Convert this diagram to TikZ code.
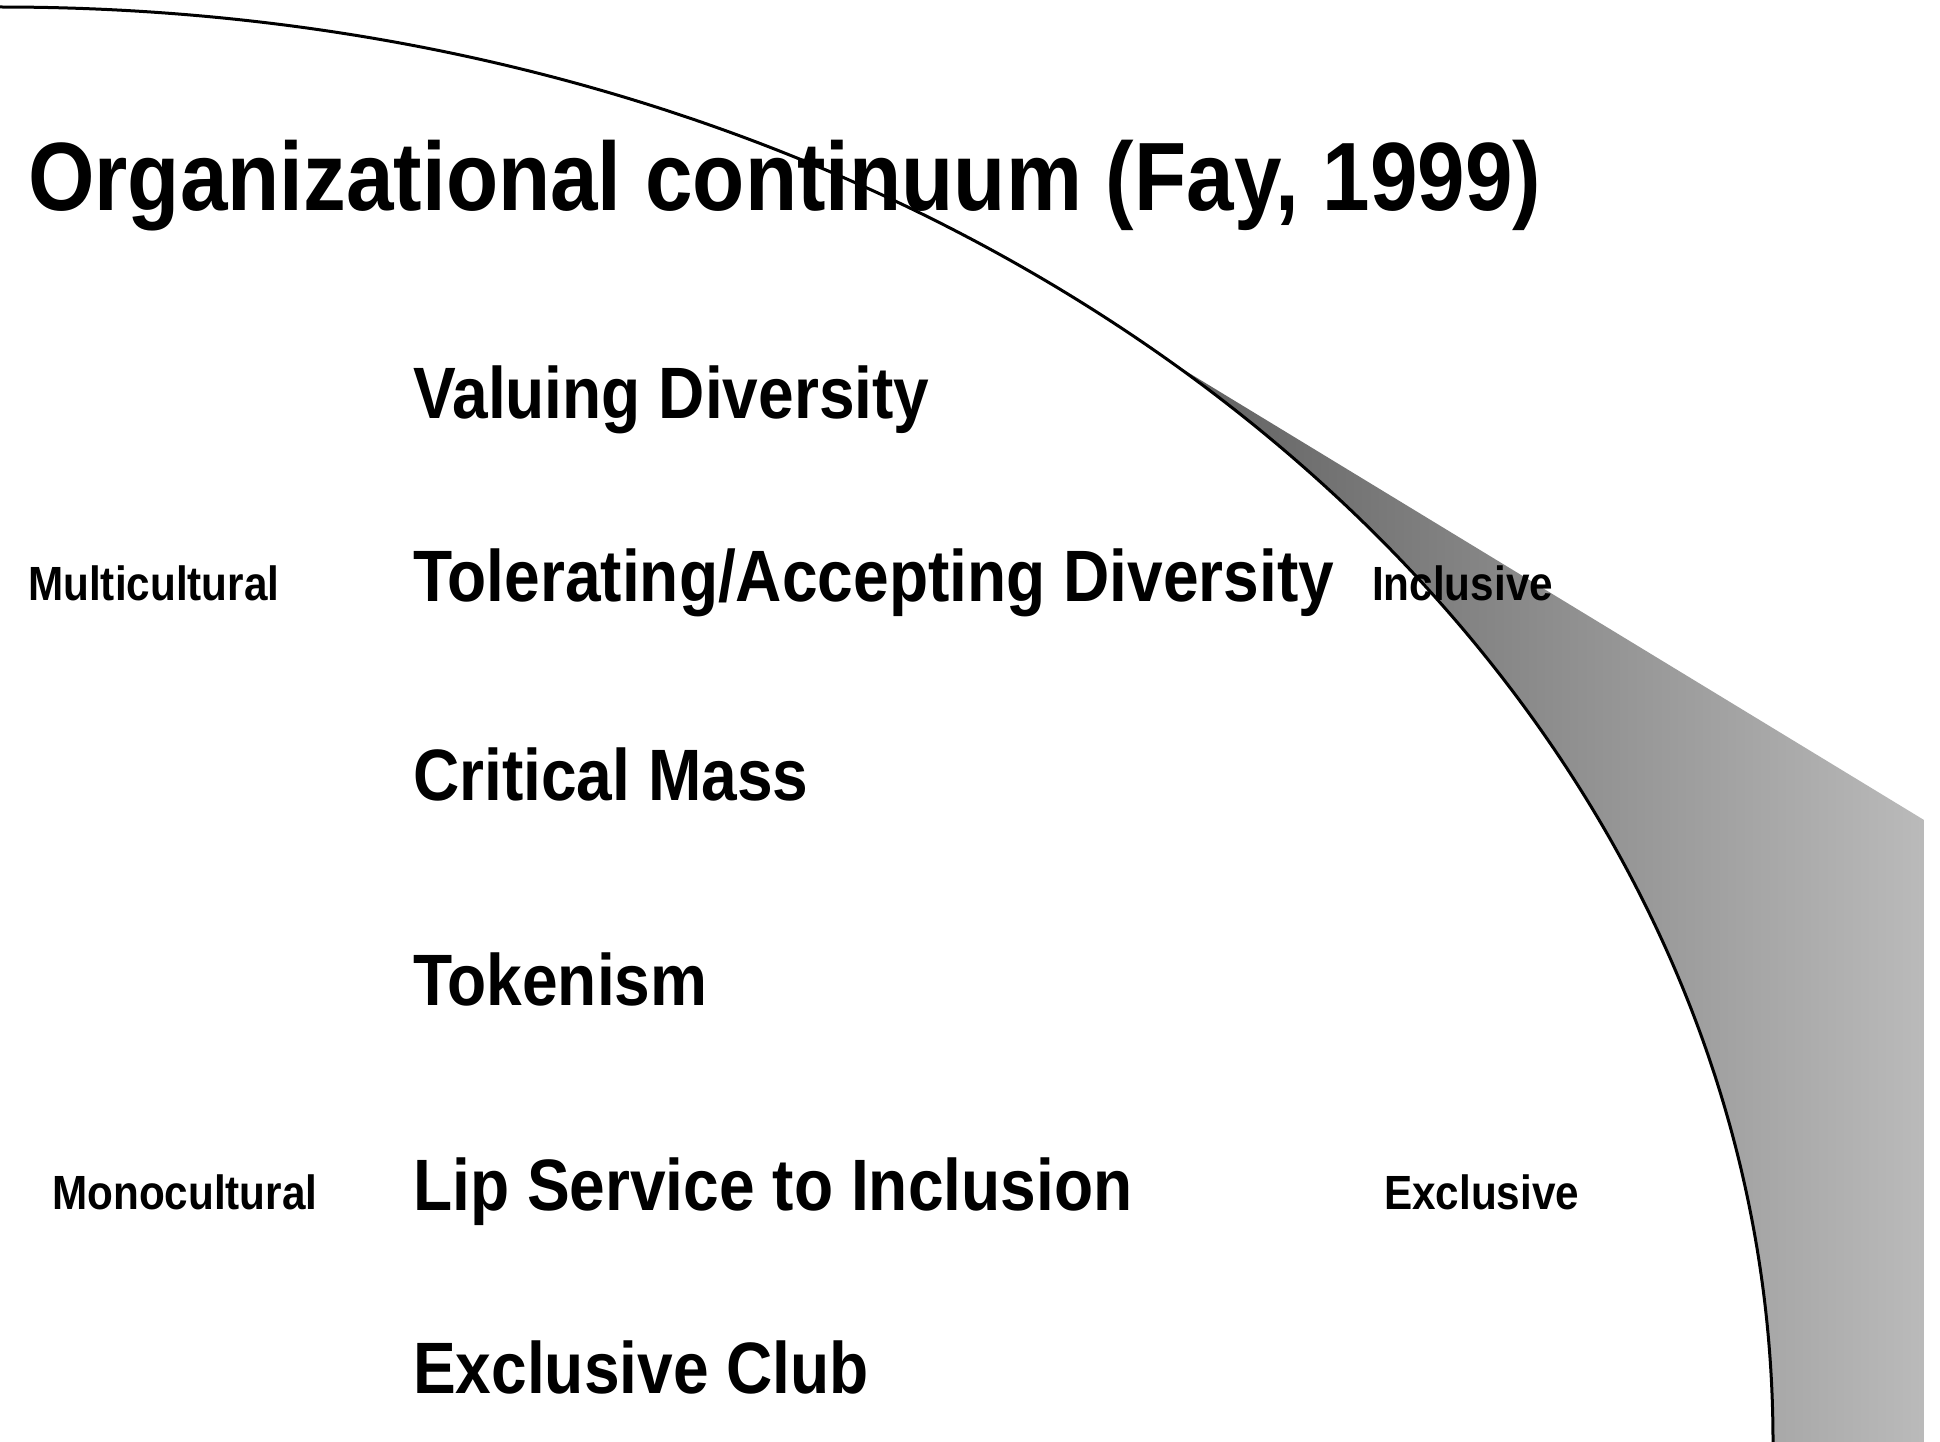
\documentclass[tikz,border=0pt]{standalone}
\usepackage{fontspec}
\setmainfont[FakeStretch=0.88]{Liberation Sans Bold}
\begin{document}
\begin{tikzpicture}[x=1pt,y=-1pt,
  titletext/.style={anchor=base west,inner sep=0pt,font=\fontsize{97.1}{110}\selectfont},
  itemtext/.style={anchor=base west,inner sep=0pt,font=\fontsize{72.8}{84}\selectfont},
  sidetext/.style={anchor=base west,inner sep=0pt,font=\fontsize{48}{56}\selectfont},
  curveline/.style={draw=black,line width=3pt}]
\useasboundingbox[fill=white] (0,0) rectangle (1940,1442);
\coordinate (cstart) at (0,7);
\coordinate (cend) at (1773,1442);
\coordinate (wtop) at (1161,356);
\coordinate (wright) at (1924,820);
\coordinate (wbottom) at (1924,1442);
% shaded wedge, clipped to the right of the curve
\begin{scope}
  \clip (cstart) .. controls (1000,7) and (1773,660) .. (cend) -- (1940,1442) -- (1940,0) -- (0,0) -- cycle;
  \shade[left color=black!63,right color=black!27]
    (wtop) -- (wright) -- (wbottom) -- (1161,1442) -- cycle;
\end{scope}
% curve
\draw[curveline] (cstart) .. controls (1000,7) and (1773,660) .. (cend);
% texts
\node[titletext] (title) at (28,211) {Organizational continuum (Fay, 1999)};
\node[itemtext] (valuing) at (413,418) {Valuing Diversity};
\node[itemtext] (tolerating) at (413,601) {Tolerating/Accepting Diversity};
\node[itemtext] (critical) at (413,800) {Critical Mass};
\node[itemtext] (tokenism) at (413,1005) {Tokenism};
\node[itemtext] (lip) at (413,1210) {Lip Service to Inclusion};
\node[itemtext] (club) at (413,1393) {Exclusive Club};
\node[sidetext] (multi) at (28,600) {Multicultural};
\node[sidetext] (incl) at (1372,600) {Inclusive};
\node[sidetext] (mono) at (52,1209) {Monocultural};
\node[sidetext] (excl) at (1384,1209) {Exclusive};
\end{tikzpicture}
\end{document}
